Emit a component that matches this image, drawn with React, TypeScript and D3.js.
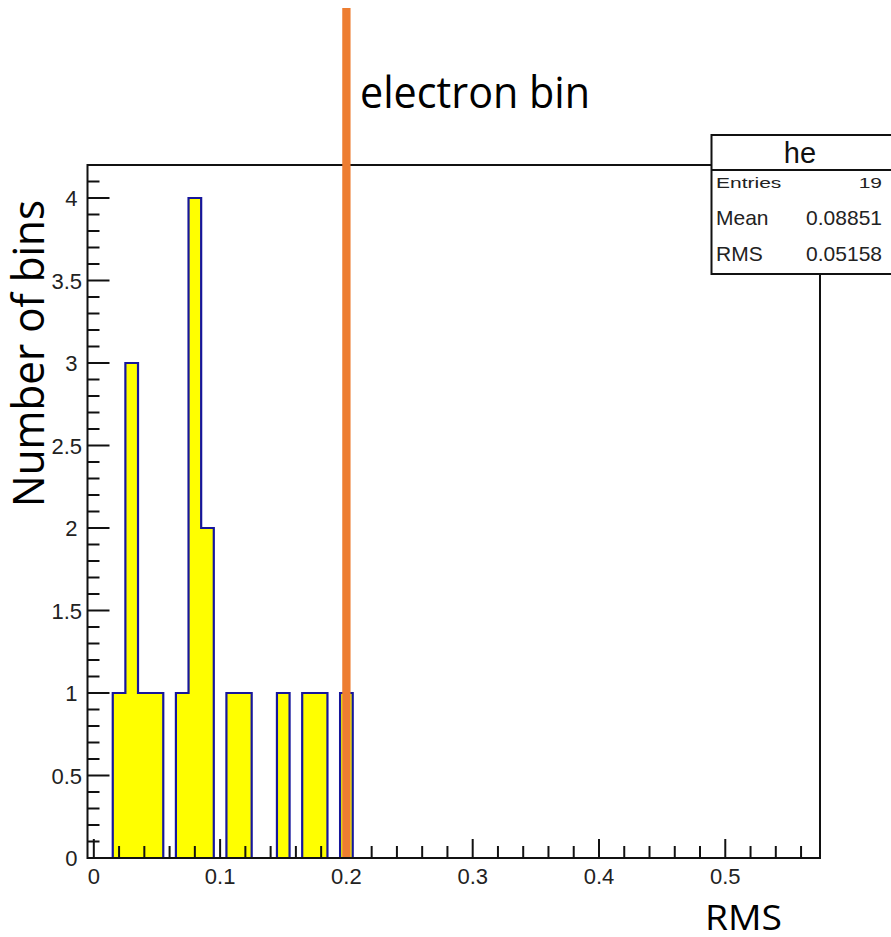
import React from "react";
import * as d3 from "d3";

// ---- data ----
const binEdges = [0.015, 0.025, 0.035, 0.045, 0.055, 0.065, 0.075, 0.085, 0.095, 0.105, 0.115, 0.125, 0.135, 0.145, 0.155, 0.165, 0.175, 0.185, 0.195, 0.205];
const binCounts = [1, 3, 1, 1, 0, 1, 4, 2, 0, 1, 1, 0, 0, 1, 0, 1, 1, 0, 1];
const xMajorTicks = [0, 0.1, 0.2, 0.3, 0.4, 0.5];
const xTickLabels = ["0", "0.1", "0.2", "0.3", "0.4", "0.5"];
const yMajorTicks = [0, 0.5, 1, 1.5, 2, 2.5, 3, 3.5, 4];
const yTickLabels = ["0", "0.5", "1", "1.5", "2", "2.5", "3", "3.5", "4"];
const statsTitle = "he";
const statsLabels = ["Entries", "Mean", "RMS"];
const statsValues = ["19", "0.08851", "0.05158"];
const electronBinX = 0.2;
const xTitle = "RMS";
const yTitle = "Number of bins";
const annotation = "electron bin";

const W = 891;
const H = 937;

export default function App() {
  const x = d3.scaleLinear().domain([-0.005, 0.575]).range([87.5, 820]);
  const y = d3.scaleLinear().domain([0, 4.2]).range([858, 165]);

  const pts: [number, number][] = binCounts.map((c, i) => [binEdges[i], c]);
  pts.push([binEdges[binEdges.length - 1], binCounts[binCounts.length - 1]]);
  const area = d3
    .area<[number, number]>()
    .x((d) => x(d[0]))
    .y0(y(0))
    .y1((d) => y(d[1]))
    .curve(d3.curveStepAfter);

  const xMinor = x.ticks(29).filter((t) => !xMajorTicks.some((m) => Math.abs(m - t) < 1e-9));
  const yMinor = y.ticks(42).filter((t) => t < 4.15 && !yMajorTicks.some((m) => Math.abs(m - t) < 1e-9));

  const rootFont = "'Liberation Sans', Arial, Helvetica, sans-serif";
  const officeFont = "'Open Sans', Lato, sans-serif";
  const bottom = y(0);
  const left = x.range()[0];

  return (
    <svg width={W} height={H} style={{ position: "absolute", left: 0, top: 0, background: "#fff" }}>
      <rect x={0} y={0} width={W} height={H} fill="#fff" />
      {/* histogram */}
      <path d={area(pts) || ""} fill="#ffff00" stroke="#16169c" strokeWidth={2.2} strokeLinejoin="miter" />
      {/* frame */}
      <rect x={left} y={y(4.2)} width={x.range()[1] - left} height={bottom - y(4.2)} fill="none" stroke="#111" strokeWidth={2} />
      {/* x ticks */}
      {xMinor.map((t, i) => (
        <line key={"xm" + i} x1={x(t)} x2={x(t)} y1={bottom} y2={bottom - 12} stroke="#111" strokeWidth={2} />
      ))}
      {xMajorTicks.map((t, i) => (
        <line key={"xM" + i} x1={x(t)} x2={x(t)} y1={bottom} y2={bottom - 19} stroke="#111" strokeWidth={2} />
      ))}
      {xMajorTicks.map((t, i) => (
        <text key={"xl" + i} x={x(t)} y={884} textAnchor="middle" fontFamily={rootFont} fontSize={22} fill="#222">
          {xTickLabels[i]}
        </text>
      ))}
      {/* y ticks */}
      {yMinor.map((t, i) => (
        <line key={"ym" + i} x1={left} x2={left + 12} y1={y(t)} y2={y(t)} stroke="#111" strokeWidth={2} />
      ))}
      {yMajorTicks.map((t, i) => (
        <line key={"yM" + i} x1={left} x2={left + 22} y1={y(t)} y2={y(t)} stroke="#111" strokeWidth={2} />
      ))}
      {yMajorTicks.map((t, i) => (
        <text
          key={"yl" + i}
          x={yTickLabels[i].includes(".") ? 82 : 77.5}
          y={y(t) + 8}
          textAnchor="end"
          fontFamily={rootFont}
          fontSize={22}
          fill="#222"
        >
          {yTickLabels[i]}
        </text>
      ))}
      {/* stats box */}
      <rect x={711.5} y={135} width={200} height={139} fill="#fff" stroke="#111" strokeWidth={2} />
      <line x1={711.5} x2={W} y1={170} y2={170} stroke="#111" strokeWidth={2} />
      <text x={800} y={163} textAnchor="middle" fontFamily={rootFont} fontSize={29} fill="#111">
        {statsTitle}
      </text>
      {statsLabels.map((lab, i) => {
        const base = [188, 225, 260.5][i];
        const sy = i === 0 ? 0.72 : 1;
        return (
          <g key={"st" + i}>
            <text
              transform={`translate(716,${base}) scale(1,${sy})`}
              fontFamily={rootFont}
              fontSize={21}
              fill="#222"
            >
              {lab}
            </text>
            <text
              transform={`translate(882,${base}) scale(1,${sy})`}
              textAnchor="end"
              fontFamily={rootFont}
              fontSize={21}
              fill="#222"
            >
              {statsValues[i]}
            </text>
          </g>
        );
      })}
      {/* orange electron-bin line */}
      <line x1={x(electronBinX)} x2={x(electronBinX)} y1={8} y2={857} stroke="#ed7d31" strokeWidth={8.3} />
      <text x={360} y={108} fontFamily={officeFont} fontSize={43} fill="#000" textLength={230} lengthAdjust="spacingAndGlyphs">
        {annotation}
      </text>
      <text x={705} y={930} fontFamily={officeFont} fontSize={34} fill="#000" textLength={77} lengthAdjust="spacingAndGlyphs">
        {xTitle}
      </text>
      <text
        transform="translate(44,507) rotate(-90)"
        fontFamily={officeFont}
        fontSize={43}
        fill="#000"
        textLength={307}
        lengthAdjust="spacingAndGlyphs"
      >
        {yTitle}
      </text>
    </svg>
  );
}
